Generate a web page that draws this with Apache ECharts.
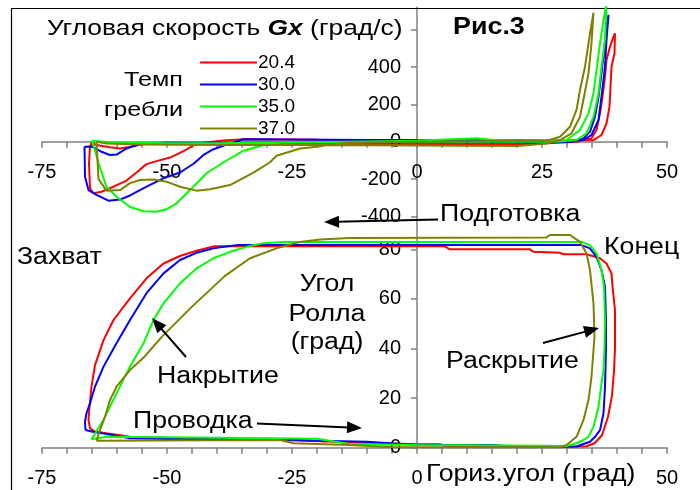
<!DOCTYPE html>
<html><head><meta charset="utf-8">
<script src="https://cdn.jsdelivr.net/npm/echarts@6/dist/echarts.min.js"></script>
<style>html,body{margin:0;padding:0;background:#fff}#c{width:700px;height:490px}</style>
</head><body><div id="c"></div>
<script>
// ---- data ----
const seriesNames = ['20.4', '30.0', '35.0', '37.0'];
const seriesColors = ['#ff0000', '#0000ff', '#00ff00', '#808000'];
const xTickLabelsTop = [-75, -50, -25, 0, 25, 50];
const xTickLabelsBottom = [-75, -50, -25, 0, 50];
const gxTicks = [-400, -200, 0, 200, 400, 600];
const gxTickLabels = [-400, -200, 0, 200, 400];
const rollTicks = [0, 20, 40, 60, 80];

// angular velocity Gx (deg/s) vs horizontal angle (deg)
const gx_204 = [[-65.1,-5],[-64.1,-18],[-61.4,-30],[-59.4,-36],[-57.4,-27],[-54.7,-12],[-50.7,-5],[-40,-10],[-20,-15],[0,-18],[20,-18],[25,-10],[30,-3],[32,0],[34.9,18],[35.9,63],[36.6,152],[37.1,241],[37.6,348],[37.9,438],[38.6,509],[39.3,563],[39.6,580],[39.5,474],[38.9,402],[38.7,295],[38.5,188],[37.9,98],[36.9,36],[35.3,9],[30,5],[0,8],[-20,10],[-34.7,13],[-38.7,7],[-42.7,-5],[-44.7,-20],[-46.7,-50],[-49.4,-85],[-52.1,-104],[-54.1,-120],[-56.1,-165],[-58.1,-208],[-60.7,-241],[-63.1,-268],[-64.7,-276],[-65.4,-250],[-65.6,-116],[-65.4,-27],[-65.1,-5]];
const gx_300 = [[-66.5,-27],[-66.1,-20],[-65,-25],[-63.1,-54],[-61.4,-71],[-60,-68],[-58.1,-36],[-55.4,-12],[-50,-5],[-30,-5],[0,-5],[25,-5],[31,0],[33.3,18],[34.6,54],[35.6,134],[36.3,241],[36.9,366],[37.5,509],[37.9,616],[38.3,679],[37.9,545],[37.6,402],[36.9,241],[36.3,116],[34.9,36],[33.3,9],[30,5],[0,8],[-34.7,13],[-37.4,-9],[-40.7,-40],[-42.7,-71],[-44.7,-118],[-47.4,-165],[-50.7,-196],[-54.1,-240],[-57.4,-288],[-59.4,-310],[-61.7,-316],[-64.1,-285],[-65.7,-259],[-66.4,-187],[-66.5,-27]];
const gx_350 = [[-65.1,5],[-60,-5],[-50,-8],[-40,-8],[-27.4,-5],[0,5],[8,15],[12,18],[16,8],[25,0],[29.9,9],[32.6,63],[34.3,152],[35.3,259],[35.9,384],[36.6,527],[37.3,652],[37.9,740],[37.6,545],[36.9,402],[36.3,259],[35.3,134],[33.9,45],[31.9,9],[28,0],[0,0],[-27.4,-5],[-30.7,-18],[-34.7,-48],[-38.7,-110],[-42.1,-169],[-45.4,-259],[-48.1,-330],[-50.1,-362],[-52.1,-375],[-54.7,-372],[-57.4,-350],[-60.1,-295],[-62.1,-241],[-63.7,-116],[-64.7,-18],[-65.1,5]];
const gx_370 = [[-64.1,0],[-62,-10],[-55,-15],[-40,-18],[-20,-18],[0,-20],[20,-23],[26,-10],[28.6,9],[30.9,45],[32.6,134],[33.4,241],[34.3,366],[34.9,527],[35.3,691],[34.6,580],[33.6,402],[32.6,277],[31.9,170],[30.6,80],[28.6,27],[26,5],[0,0],[-13.4,-5],[-16.7,-12],[-20,-27],[-23.4,-36],[-25,-50],[-28.1,-75],[-29.4,-110],[-32.7,-166],[-37.4,-232],[-41.4,-255],[-44.1,-262],[-47.4,-241],[-50.1,-214],[-52.7,-202],[-55.4,-205],[-57.4,-222],[-59.4,-259],[-62.1,-262],[-63.7,-200],[-63.9,-98],[-64.1,0]];

// roll angle (deg) vs horizontal angle (deg)
const roll_204 = [[-64.4,6.5],[-62.1,5.8],[-57.4,4.4],[-46.8,3.8],[-27.4,3.1],[-10,2],[0,1.4],[4.6,1.4],[6,0.5],[29,0.4],[33.9,0.6],[35.5,1.8],[37,5],[38.2,12.5],[39,21],[39.4,31],[39.6,40],[39.6,55.5],[39.1,65],[38.9,70.3],[37.9,74.3],[36.6,76.4],[33.9,78],[29.3,78],[28.6,78.6],[23.3,79],[22.6,80],[6.6,80],[5.5,81.2],[-40.7,81.2],[-44.1,79.4],[-47.4,77.3],[-50.7,74.3],[-54.1,68.3],[-57.4,60.2],[-60.7,51.5],[-62.7,43.4],[-64.4,33.3],[-65.1,24.6],[-65.5,16.5],[-65.7,11.2],[-65.4,7.8],[-64.4,6.5]];
const roll_300 = [[-66.3,7.1],[-65.1,6.5],[-62.1,5.5],[-57.4,3.8],[-46.7,3.4],[-30,3.6],[-20,2.8],[-10,2.4],[0,1.1],[15,1.1],[20,0.4],[31.9,0.5],[34.6,2.4],[35.6,4.4],[36.6,7.1],[37.3,13.9],[37.6,24.6],[37.8,40],[37.8,51.5],[37.6,65],[36.9,71.6],[35.9,77],[34.6,80.4],[32.9,81.7],[-36.1,81.7],[-40.7,80.4],[-44.1,78.6],[-47.4,75.7],[-50.7,70.3],[-54.1,62.3],[-57.4,51.5],[-60.1,42.1],[-62.7,32.7],[-64.4,24.6],[-65.4,17.9],[-66.1,13.9],[-66.4,10.5],[-66.3,7.1]];
const roll_350 = [[-65.1,3.4],[-62,4.4],[-40,4],[-20,3.6],[-13.4,1.5],[0,1.1],[25,0.8],[29.9,0.7],[31.9,1.8],[33.3,3.1],[34.3,4.4],[35.3,8.5],[36.3,16.5],[36.9,26],[37.3,31.3],[37.5,40],[37.6,51.5],[37.4,65],[36.9,71.6],[35.9,78.4],[34.6,81.7],[33,83],[-26.7,83],[-30.7,82.5],[-34.1,81],[-37.4,79],[-40.7,76.4],[-44.1,72.3],[-47.4,66.3],[-50.7,58.2],[-52.7,51.5],[-54.7,42.1],[-57.4,32.7],[-60.1,21.9],[-62.7,11.2],[-65.1,3.4]];
const roll_370 = [[-64.1,2.8],[-40,3],[-27.4,3.1],[-24.7,1.8],[-13.4,1.1],[-4.8,0.2],[28.6,0.2],[29.9,1.1],[31.9,4.4],[33.3,11.2],[34.3,19.2],[34.9,28.6],[35.3,39.4],[35.5,44.8],[35.3,58.2],[34.6,71.6],[33.9,78.4],[32.6,83],[30.6,85.8],[26.6,85.8],[25.9,84.8],[-13.4,84.6],[-19.4,84],[-23.4,83],[-28.1,80.4],[-33.4,76.4],[-38.4,69.3],[-45,56.9],[-51,44.8],[-54.5,36.7],[-57.4,31.3],[-60.1,24.6],[-61.4,19.2],[-62.4,12.5],[-63.4,7.1],[-64.1,2.8]];

const gxData = [gx_204, gx_300, gx_350, gx_370];
const rollData = [roll_204, roll_300, roll_350, roll_370];

// ---- layout ----
const FONT = "'Liberation Sans', Arial, sans-serif";
const AX = '#808080';
const G = {left: 42, width: 625, topTop: 7.3, topH: 209.1, botTop: 216.6, botH: 231.1};
const X_MIN = -75, X_MAX = 50, GX_MIN = -400, GX_MAX = 720, ROLL_MIN = 0, ROLL_MAX = 93.2;
// offsets that put the axes through the origin (x = 0, Gx = 0)
const yOffset = -G.width * (0 - X_MIN) / (X_MAX - X_MIN);
const xTopOffset = -G.topH * (0 - GX_MIN) / (GX_MAX - GX_MIN);

const chart = echarts.init(document.getElementById('c'), null, {renderer: 'canvas'});

function xAxisCfg(gi, labels, offset) {
  return {
    type: 'value', gridIndex: gi, min: X_MIN, max: X_MAX, interval: 25, position: 'bottom', offset: offset,
    axisLine: {onZero: false, lineStyle: {color: AX, width: 1.5}},
    axisTick: {show: true, length: 6, lineStyle: {color: AX, width: 1.5}},
    minorTick: {show: true, splitNumber: 5, length: 6, lineStyle: {color: AX, width: 1.5}},
    axisLabel: {customValues: labels, margin: 21, fontSize: 20, color: '#000', fontFamily: FONT},
    splitLine: {show: false}
  };
}
function yAxisCfg(gi, min, max, ticks, labels) {
  return {
    type: 'value', gridIndex: gi, min: min, max: max, position: 'left', offset: yOffset,
    axisLine: {show: true, onZero: false, lineStyle: {color: AX, width: 1.5}},
    axisTick: {show: true, customValues: ticks, length: 6, lineStyle: {color: AX, width: 1.5}},
    axisLabel: {customValues: labels, margin: 16, fontSize: 20, color: '#000', fontFamily: FONT},
    splitLine: {show: false}
  };
}

const series = [];
seriesNames.forEach((n, i) => {
  series.push({name: n, type: 'line', xAxisIndex: 0, yAxisIndex: 0, data: gxData[i],
    showSymbol: false, symbol: 'none', lineStyle: {width: 2, color: seriesColors[i]}, itemStyle: {color: seriesColors[i]}});
  series.push({name: n, type: 'line', xAxisIndex: 1, yAxisIndex: 1, data: rollData[i],
    showSymbol: false, symbol: 'none', lineStyle: {width: 2, color: seriesColors[i]}, itemStyle: {color: seriesColors[i]}});
});

const SX = 1.16;
function txt(x, y, s, size, opt) {
  opt = opt || {};
  return {type: 'text', x: x, y: y, z: 50, scaleX: opt.sx || SX,
    style: {text: s, fontSize: size, fontFamily: FONT, fill: '#000', fontWeight: opt.bold ? 'bold' : 'normal',
      align: opt.align || 'left', verticalAlign: 'middle'}};
}
function arrow(x1, y1, x2, y2) {
  const dx = x2 - x1, dy = y2 - y1, L = Math.sqrt(dx*dx + dy*dy);
  const ux = dx / L, uy = dy / L, hl = 15, hw = 6;
  const bx = x2 - ux*hl, by = y2 - uy*hl;
  return [
    {type: 'line', z: 50, shape: {x1: x1, y1: y1, x2: bx + ux*2, y2: by + uy*2}, style: {stroke: '#000', lineWidth: 2}},
    {type: 'polygon', z: 50, shape: {points: [[x2, y2], [bx - uy*hw, by + ux*hw], [bx + uy*hw, by - ux*hw]]}, style: {fill: '#000'}}
  ];
}

const graphics = [
  {type: 'rect', z: 1, shape: {x: 11.5, y: 8.5, width: 720, height: 520}, style: {fill: 'none', stroke: '#000', lineWidth: 1.2}},
  {type: 'text', x: 47, y: 29, z: 50, scaleX: 1.2, style: {text: '{n|Угловая скорость }{b|Gx}{n| (град/с)}', verticalAlign: 'middle',
    rich: {n: {fontSize: 22, fontFamily: FONT, fill: '#000'}, b: {fontSize: 22, fontFamily: FONT, fontWeight: 'bold', fontStyle: 'italic', fill: '#000'}}}},
  txt(453, 27, 'Рис.3', 24, {bold: true, sx: 1.12}),
  txt(183, 80, 'Темп', 21, {align: 'right', sx: 1.2}),
  txt(183, 110, 'гребли', 21, {align: 'right', sx: 1.2}),
  txt(440, 215, 'Подготовка', 23),
  txt(604, 248, 'Конец', 23),
  txt(17, 258, 'Захват', 23),
  txt(327, 285, 'Угол', 23, {align: 'center'}),
  txt(327, 315, 'Ролла', 23, {align: 'center'}),
  txt(327, 343, '(град)', 23, {align: 'center'}),
  txt(157, 377, 'Накрытие', 23),
  txt(133, 422, 'Проводка', 23),
  txt(446, 362, 'Раскрытие', 23),
  txt(426, 475, 'Гориз.угол (град)', 23)
].concat(arrow(438, 219.5, 324, 222), arrow(186, 357, 152, 318), arrow(257, 423.5, 362, 428), arrow(543, 343, 599, 328));

chart.setOption({
  animation: false,
  backgroundColor: '#fff',
  textStyle: {fontFamily: FONT},
  grid: [
    {left: G.left, width: G.width, top: G.topTop, height: G.topH, containLabel: false},
    {left: G.left, width: G.width, top: G.botTop, height: G.botH, containLabel: false}
  ],
  legend: {
    data: seriesNames, orient: 'vertical', left: 200, top: 53, padding: 0,
    icon: 'rect', itemWidth: 57, itemHeight: 2, itemGap: 3, selectedMode: false,
    textStyle: {fontSize: 19, fontFamily: FONT, color: '#000', padding: [0, 0, 3, -4]}
  },
  xAxis: [xAxisCfg(0, xTickLabelsTop, xTopOffset), xAxisCfg(1, xTickLabelsBottom, 0)],
  yAxis: [yAxisCfg(0, GX_MIN, GX_MAX, gxTicks, gxTickLabels), yAxisCfg(1, ROLL_MIN, ROLL_MAX, rollTicks, rollTicks)],
  series: series,
  graphic: graphics
});
</script></body></html>
